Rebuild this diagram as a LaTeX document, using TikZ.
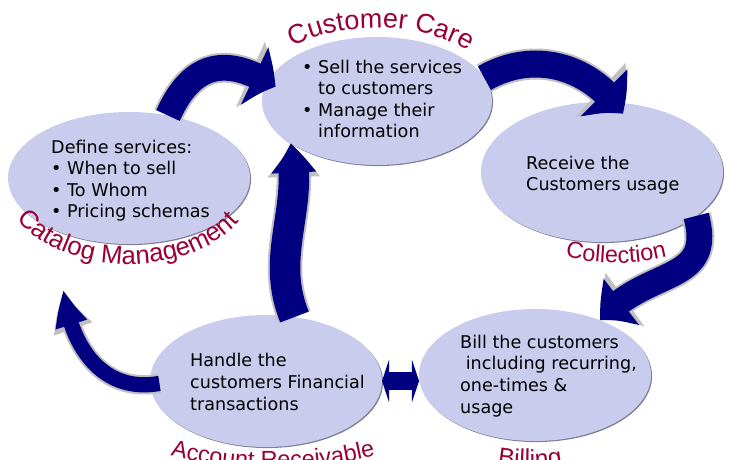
\documentclass[tikz,border=0pt]{standalone}
\usepackage{fontspec}
\setmainfont{DejaVu Sans}
\newfontfamily\labelfont{Liberation Sans}
\usetikzlibrary{shapes.geometric, arrows.meta, bending, decorations.text, shadows}

\definecolor{bubblefill}{RGB}{201,204,236}
\definecolor{bubbleedge}{RGB}{125,125,150}
\definecolor{arrowblue}{RGB}{0,0,128}
\definecolor{arrowedge}{RGB}{192,192,192}
\definecolor{labelred}{RGB}{153,0,51}

\tikzset{
	bubble/.style 2 args={ellipse, fill=bubblefill, inner sep=0pt, outer sep=0pt,
		minimum width=#1, minimum height=#2,
		drop shadow={shadow xshift=0.9pt, shadow yshift=-0.9pt, fill=bubbleedge, opacity=1}},
	flow/.style n args={3}{draw=arrowblue, line width=#1, -{Triangle[bend, width=#2, length=#3]},
		preaction={draw=arrowedge, line width=#1+3.5pt, -{Triangle[bend, width=#2+6pt, length=#3+4pt]}}},
	body/.style={anchor=base west, inner sep=0pt, align=left, font=\fontsize{15}{18.4}\selectfont},
	arclabel/.style={decorate, decoration={text along path, text align=center, text={#1}}}
}

\begin{document}
\begin{tikzpicture}[x=0.03cm, y=-0.03cm]
	\useasboundingbox (0,0) rectangle (729,460);

	% the five stages
	\node [bubble={7.26cm}{3.96cm}] (catalog) at (129,178) {};
	\node [bubble={6.9cm}{3.84cm}] (care) at (377,101) {};
	\node [bubble={7.26cm}{4.2cm}] (collect) at (602,172) {};
	\node [bubble={6.96cm}{3.96cm}] (receive) at (266,381) {};
	\node [bubble={6.96cm}{3.96cm}] (billing) at (535,375) {};

	% flow between stages
	\coordinate (catin) at (64,290);
	\draw [flow={22pt}{53pt}{20pt}, shorten >=-8pt] (catalog.58) to [out=66, in=150, looseness=1.3] (care.170);
	\draw [flow={23pt}{55pt}{24pt}, shorten >=-12pt] (care.12) to [out=30, in=130] (collect.80);
	\draw [flow={22pt}{47pt}{25pt}] (collect.-25) to [out=-75, in=49, looseness=1.3] (billing.40);
	\draw [flow={26pt}{36pt}{26pt}] (receive.66) to [out=112, in=-78] (care.206);
	\draw [flow={13pt}{26pt}{30pt}, shorten <=-8pt] (receive.182) to [out=190, in=-85] (catin);
	\draw [arrowblue, line width=16pt, {Triangle[width=36pt, length=6pt]}-{Triangle[width=36pt, length=6pt]}] (receive.east) -- (receive.east -| billing.west);

	% texts (placed at the baseline of their last line)
	\node [body] (catalogtxt) at (51,218) {Define services:\\\textbullet\ When to sell\\\textbullet\ To Whom\\\textbullet\ Pricing schemas};
	\node [body] (caretxt) at (302,138) {\textbullet\ Sell the services\\\phantom{\textbullet\ }to customers\\\textbullet\ Manage their\\\phantom{\textbullet\ }information};
	\node [body] (collecttxt) at (526,191) {Receive the\\Customers usage};
	\node [body] (receivetxt) at (190,410) {Handle the\\customers Financial\\transactions};
	\node [body] (billingtxt) at (460,413) {Bill the customers\\\ including recurring,\\one-times \&\\usage};

	% stage names
	\path [arclabel={|\labelfont\fontsize{23}{23}\selectfont\color{labelred}|Customer Care}] (259.5,76) arc [start angle=160, end angle=14, x radius=3.75cm, y radius=2.19cm];
	\path [arclabel={|\labelfont\fontsize{22}{22}\selectfont\color{labelred}|Catalog Management}] (3.8,195.9) arc [start angle=192, end angle=346, x radius=3.84cm, y radius=2.58cm];
	\path [arclabel={|\labelfont\fontsize{20}{20}\selectfont\color{labelred}|Collection}] (535.7,246.5) arc [start angle=235, end angle=305, x radius=4.2cm, y radius=2.73cm];
	\path [arclabel={|\labelfont\fontsize{20}{20}\selectfont\color{labelred}|Account Receivable}] (144.4,447.6) arc [start angle=230, end angle=310, x radius=6cm, y radius=2.61cm];
	\path [arclabel={|\labelfont\fontsize{21}{21}\selectfont\color{labelred}|Billing}] (465,454.7) arc [start angle=240, end angle=300, x radius=3.9cm, y radius=2.76cm];
\end{tikzpicture}
\end{document}
